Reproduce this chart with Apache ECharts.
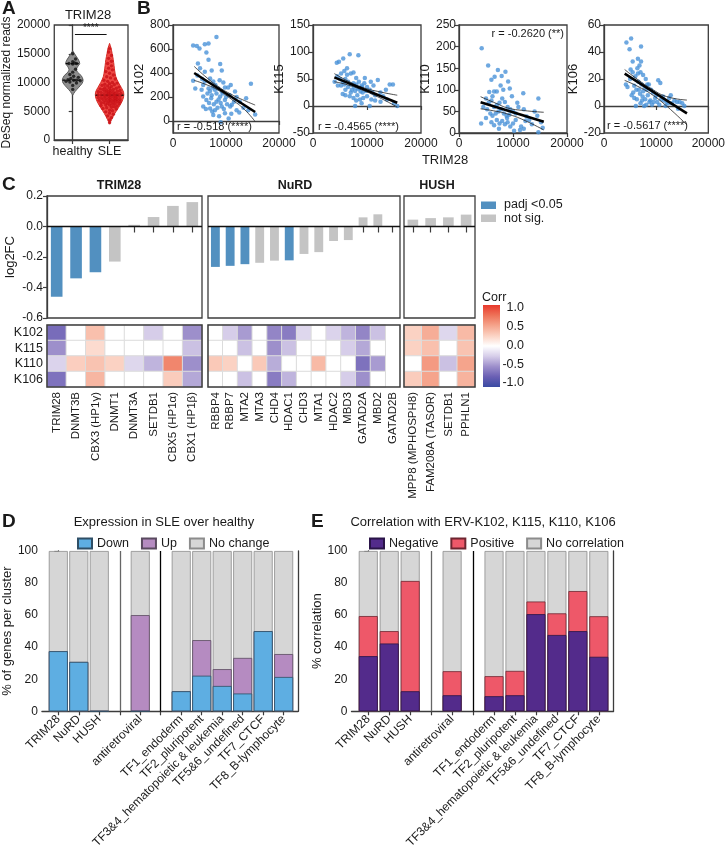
<!DOCTYPE html>
<html><head><meta charset="utf-8">
<script src="https://cdn.jsdelivr.net/npm/echarts@6/dist/echarts.min.js"></script>
<style>html,body{margin:0;padding:0;background:#fff}#c{width:728px;height:851px}</style>
</head><body><div id="c"></div>
<script>
// ================= DATA =================
// Panel A
const violinCategories = ['healthy', 'SLE'];
const healthyTRIM28 = [8800,9500,9900,10100,10200,10300,10400,10400,10500,10700,10900,11100,11400,11800,12300,13200,13300,13300,13400,13600,14100,15000];
const sleTRIM28 = [3000,3500,3900,4200,4500,4700,4900,5100,5200,5400,5500,5600,5700,5800,5900,6000,6100,6100,6200,6300,6300,6400,6500,6500,6600,6600,6700,6700,6800,6800,6900,6900,7000,7000,7000,7100,7100,7200,7200,7300,7300,7400,7400,7500,7500,7500,7600,7600,7700,7700,7800,7800,7900,7900,8000,8000,8000,8100,8100,8200,8200,8300,8300,8400,8400,8500,8500,8600,8600,8700,8800,8800,8900,9000,9000,9100,9200,9300,9400,9500,9600,9700,9800,9900,10000,10200,10400,10600,10800,11000,11300,11600,11900,12200,12500,12900,13300,13700,14200,14700,15300,15900];
// violin outline: [TRIM28 reads, half-width in category units]
const healthyProfile = [[7800,0],[8400,0.06],[9200,0.17],[9900,0.26],[10500,0.28],[11200,0.23],[11800,0.13],[12300,0.1],[12800,0.14],[13300,0.19],[13900,0.16],[14600,0.09],[15500,0]];
const sleProfile = [[2800,0],[3600,0.06],[4600,0.14],[5600,0.24],[6600,0.33],[7500,0.38],[8300,0.38],[9100,0.32],[10000,0.24],[11000,0.17],[12000,0.14],[13000,0.12],[14000,0.1],[15000,0.07],[16000,0.04],[16800,0]];
const healthyLines = [10400, 13300];
const sleLines = [7800];
const sigValue = 18400;
const sigText = '****';

// Panel B  [TRIM28, ERV reads]
const k102Points = [[3800,630],[4500,625],[5000,605],[6000,640],[6700,645],[8200,700],[6300,570],[6700,510],[8900,475],[4700,480],[3800,335],[4200,270],[5100,440],[6000,410],[7300,420],[9200,420],[7000,355],[7600,330],[5700,300],[5400,260],[6700,270],[7900,260],[8500,270],[9200,245],[9800,280],[10400,280],[5700,205],[7300,215],[8900,205],[10700,215],[11700,245],[6300,175],[8200,160],[9800,175],[5700,120],[7000,105],[7900,90],[9200,120],[11100,135],[12600,160],[13800,190],[14700,310],[15500,55],[14200,90],[7600,50],[9800,65],[12000,90],[6500,230],[7000,250],[7500,280],[8000,300],[8200,230],[8600,180],[9000,150],[9400,230],[10000,200],[10200,140],[10800,120],[7200,190],[6800,150],[7700,140],[8400,110],[9600,100],[11000,60],[10500,20],[9000,-10],[12500,70],[13300,110],[11500,160],[6000,330],[5500,350],[4600,380],[8800,340],[9500,320],[10900,300],[12000,200],[6200,100],[7400,80],[8700,40]];
const k102Fit = [[4000,400],[15500,75]];
const k102CIUp = [[4000,455],[6000,375],[8500,288],[11000,222],[13500,170],[15500,133]];
const k102CILow = [[4000,338],[6000,308],[8500,258],[11000,182],[13500,95],[15500,-5]];

const k115Points = [[4000,45],[4400,80],[4800,82],[5600,88],[6800,96],[8400,94],[5200,60],[5800,65],[6300,70],[7000,60],[7500,62],[8000,52],[4500,55],[5000,50],[5500,45],[6000,50],[6500,45],[7000,40],[7500,42],[8000,40],[8500,45],[9000,38],[9500,42],[10000,35],[5200,38],[6000,30],[6500,35],[7200,30],[7800,28],[8300,32],[8800,27],[9200,25],[9800,28],[10500,30],[11000,25],[11500,20],[12000,48],[12500,25],[13500,30],[14200,40],[14800,40],[13000,18],[6000,20],[6800,18],[7500,15],[8200,20],[8700,12],[9300,15],[10000,18],[10800,12],[11500,10],[12500,8],[13700,12],[15000,5],[15600,0],[7800,0],[10500,0],[9000,5],[5500,22],[4600,38],[7000,25],[8000,10],[6300,58],[9600,52],[10700,45],[7600,35],[8600,33],[9100,35],[11200,38],[5800,40]];
const k115Fit = [[3950,53],[15600,6]];
const k115CIUp = [[3950,60],[6500,46],[9000,35],[12000,27],[15600,20]];
const k115CILow = [[3950,45],[6500,39],[9000,30],[12000,17],[15600,-2]];

const k110Points = [[4200,196],[5400,156],[7200,146],[8600,142],[7900,132],[9100,119],[6000,123],[11900,92],[14700,80],[9400,103],[7000,96],[6500,96],[4100,22],[11300,7],[14700,2],[5000,80],[5500,70],[6000,75],[6500,60],[7000,65],[7500,70],[8000,80],[8500,72],[9000,60],[9500,55],[10000,50],[5200,55],[5800,45],[6200,40],[6800,45],[7300,50],[7800,55],[8300,45],[8800,40],[9300,42],[10500,45],[11000,60],[12000,55],[12500,38],[13000,30],[13500,20],[14500,40],[15200,25],[15500,12],[4500,60],[5000,35],[6000,25],[6500,18],[7000,30],[7500,22],[8000,28],[8500,20],[9000,25],[9500,15],[10000,22],[10500,30],[11500,15],[12000,10],[6200,85],[8200,100],[9800,85],[7700,110],[6600,130],[8900,35],[10800,70],[5600,95],[12300,28],[14000,50],[7400,10],[10200,5]];
const k110Fit = [[4000,71],[15700,26]];
const k110CIUp = [[4000,84],[7000,68],[9000,58],[12000,52],[15700,48]];
const k110CILow = [[4000,56],[7000,50],[9000,44],[12000,30],[15700,7]];

const k106Points = [[4300,47],[5200,50],[4900,42],[7100,44],[6500,35],[7100,33],[5500,33],[6800,30],[4200,16],[4500,14],[5000,20],[5500,25],[6000,22],[6500,24],[7000,25],[7500,23],[8000,20],[5800,15],[6200,12],[6600,18],[7200,16],[7800,14],[8200,12],[8600,16],[9000,12],[9400,10],[10000,8],[10400,19],[10800,17],[5300,8],[5800,6],[6300,5],[6900,9],[7400,7],[7900,5],[8400,8],[8900,4],[9500,3],[10200,3],[11000,5],[11500,4],[12000,3],[12500,6],[13000,2],[13500,4],[14000,3],[14500,3],[15000,2],[15400,0],[6100,0],[7000,2],[7700,0],[8100,1],[8700,3],[9200,1],[10600,1],[11800,0],[12300,2],[14200,-2],[5600,10],[6700,12],[7500,11],[9800,6],[11300,7],[12800,8],[6400,28],[8300,16],[5100,27],[7300,4]];
const k106Fit = [[3960,24],[15900,-5.4]];
const k106CIUp = [[3960,27],[6500,19.5],[9000,13],[12000,7],[15900,4.4]];
const k106CILow = [[3960,19],[6500,14.5],[9000,9],[12000,0],[15900,-14]];

const rTexts = ['r = -0.518 (****)', 'r = -0.4565 (****)', 'r = -0.2620 (**)', 'r = -0.5617 (****)'];

// Panel C
const ervRows = ['K102', 'K115', 'K110', 'K106'];
const trim28Genes = ['TRIM28','DNMT3B','CBX3 (HP1γ)','DNMT1','DNMT3A','SETDB1','CBX5 (HP1α)','CBX1 (HP1β)'];
const trim28LogFC = [-0.46,-0.34,-0.30,-0.23,0.011,0.062,0.135,0.16];
const trim28Padj = [1,1,1,0,0,0,0,0];
const trim28Corr = [
  [-0.68,0,0.35,0,0,-0.25,0,-0.5],
  [-0.5,0,0.2,0,0,0,0,-0.3],
  [-0.22,0.27,0.33,0.25,-0.2,-0.35,0.65,-0.5],
  [-0.65,0,0.4,0,0,0,0.28,-0.4]];
const nurdGenes = ['RBBP4','RBBP7','MTA2','MTA3','CHD4','HDAC1','CHD3','MTA1','HDAC2','MBD3','GATAD2A','MBD2','GATAD2B'];
const nurdLogFC = [-0.265,-0.258,-0.247,-0.238,-0.224,-0.222,-0.18,-0.168,-0.095,-0.089,0.06,0.08,null];
const nurdPadj = [1,1,1,0,0,1,0,0,0,0,0,0,0];
const nurdCorr = [
  [0,-0.25,-0.45,0,-0.55,-0.6,-0.2,0,-0.22,-0.35,-0.55,-0.3,null],
  [0,0,-0.3,0,-0.5,-0.3,0,0,0,-0.25,-0.4,0,null],
  [0.3,0.25,0,0.3,-0.38,0,0,0.38,0,0,-0.65,-0.45,null],
  [0,0,-0.3,0,-0.6,-0.35,0,0,0,-0.25,-0.5,0,null]];
const hushGenes = ['MPP8 (MPHOSPH8)','FAM208A (TASOR)','SETDB1','PPHLN1'];
const hushLogFC = [0.045,0.055,0.06,0.078];
const hushPadj = [0,0,0,0];
const hushCorr = [
  [0.25,0.45,-0.2,0.38],
  [0.25,0.35,0,0.33],
  [0,0.55,-0.3,0.5],
  [0.28,0.5,0,0.42]];
const corrTicks = ['1.0','0.5','0.0','-0.5','-1.0'];

// Panels D & E
const clusters = ['TRIM28','NuRD','HUSH','antiretroviral','TF1_endoderm','TF2_pluripotent','TF3&4_hematopoietic & leukemia','TF5&6_undefined','TF7_CTCF','TF8_B-lymphocyte'];
const dDown = [37.5,30.8,0,0,12.5,22.2,15.8,11.1,50,21.4];
const dUp = [0,0,0,60,0,22.2,10.5,22.2,0,14.3];
const dNoChange = [62.5,69.2,100,40,87.5,55.6,73.7,66.7,50,64.3];
const eNegative = [34.4,42.3,12.5,10,9.4,10,60.6,47.6,50,34];
const ePositive = [25,7.7,68.8,15,12.5,15.2,7.9,13.5,25,25.3];
const eNone = [40.6,50,18.7,75,78.1,74.8,31.5,38.9,25,40.7];

// ================= LAYOUT / STYLE =================
const F = '"Liberation Sans", Arial, Helvetica, sans-serif';
const TXT = '#1a1a1a';
const AX = '#3c3c3c';
const BLUE = '#5290c0', GREY = '#c4c4c4';
const corrColors = ['#3a4aa2','#6a5fb4','#9d8fcb','#d6cde9','#ffffff','#fbd2c3','#f5a48c','#ee7258','#e8392c'];
const plain = v => String(Math.round(v * 1000) / 1000);

const grids = [], xAxes = [], yAxes = [], series = [], graphics = [], heatIdx = [];
const axLine = {show:true, lineStyle:{color:AX, width:1.3}};
const axTick = {show:true, length:4, lineStyle:{color:AX, width:1.2}};
const axLab = {color:TXT, fontSize:12, fontFamily:F, formatter:plain};
const nameStyle = {color:TXT, fontSize:13, fontFamily:F};

function txt(x, y, text, opt) {
  opt = opt || {};
  graphics.push({type:'text', x:x, y:y, z:100, style:{text:text, fill:TXT,
    font:(opt.bold?'bold ':'') + (opt.size||12) + 'px ' + F,
    textAlign:opt.align||'left', textVerticalAlign:'middle'}});
}

// ---------- Panel A ----------
function interpW(prof, v) {
  for (let i = 0; i < prof.length - 1; i++) {
    const a = prof[i], b = prof[i+1];
    if (v >= a[0] && v <= b[0]) return a[1] + (b[1]-a[1])*(v-a[0])/(b[0]-a[0]);
  }
  return 0;
}
// deterministic dot placement inside the violin (max-min-distance on a 1px grid)
function spread(vals, center, prof, pxPerX, pxPerY) {
  const placed = [], out = [];
  vals.slice().sort((a,b)=>a-b).forEach(v => {
    const y = v * pxPerY;
    const W = Math.max(0, Math.floor(interpW(prof, v) * pxPerX * 0.85));
    let best = 0, bestD = -1;
    for (let k = 0; k <= 2*W; k++) {
      const off = (k % 2 ? 1 : -1) * Math.ceil(k/2);
      let d = 1e9;
      placed.forEach(p => { const dd = Math.hypot(p[0]-off, p[1]-y); if (dd < d) d = dd; });
      if (d > bestD + 0.5) { bestD = d; best = off; }
      if (d >= 4) break;
    }
    placed.push([best, y]); out.push([center + best/pxPerX, v]);
  });
  return out;
}
(function(){
  const g = grids.length;
  grids.push({left:50, top:25, width:78, height:115, show:true, borderColor:AX, borderWidth:1.3});
  xAxes.push({gridIndex:g, type:'value', min:-0.5, max:1.5, splitLine:{show:false}, axisLine:axLine,
    axisTick:Object.assign({}, axTick, {customValues:[0,1]}),
    axisLabel:Object.assign({}, axLab, {fontSize:12.5, margin:5, customValues:[0,1], formatter:v=>violinCategories[Math.round(v)]})});
  yAxes.push({gridIndex:g, type:'value', min:0, max:20000, interval:5000, splitLine:{show:false}, axisLine:axLine, axisTick:axTick,
    axisLabel:Object.assign({}, axLab, {margin:4}), name:'DeSeq normalized reads', nameLocation:'middle', nameGap:37, nameTextStyle:Object.assign({}, nameStyle, {fontSize:12})});
  const xi = xAxes.length-1, yi = yAxes.length-1;
  const profiles = [healthyProfile, sleProfile], lines = [healthyLines, sleLines];
  const fill = ['#8e8e8e','#ef4a45'], stroke = ['#5a5a5a','#d42a25'];
  series.push({type:'custom', xAxisIndex:xi, yAxisIndex:yi, data:[[0,0],[1,0]], encode:{x:0,y:1}, z:2,
    renderItem:function(params, api){
      const c = params.dataIndex, prof = profiles[c];
      const L = [], R = [];
      prof.forEach(p => { L.push(api.coord([c-p[1], p[0]])); R.push(api.coord([c+p[1], p[0]])); });
      const children = [{type:'polygon', shape:{points:L.concat(R.reverse()), smooth:0.3}, style:{fill:fill[c], stroke:stroke[c], lineWidth:1}}];
      lines[c].forEach(q => {
        const w = interpW(prof, q), a = api.coord([c-w, q]), b = api.coord([c+w, q]);
        children.push({type:'line', z2:10, shape:{x1:a[0],y1:a[1],x2:b[0],y2:b[1]}, style:{stroke:'#000', lineWidth:1.3, lineDash:[3,2]}});
      });
      return {type:'group', children:children};
    }});
  series.push({type:'scatter', xAxisIndex:xi, yAxisIndex:yi, z:3, symbolSize:3.4, itemStyle:{color:'#111'},
    data:spread(healthyTRIM28, 0, healthyProfile, 39, 115/20000)});
  series.push({type:'scatter', xAxisIndex:xi, yAxisIndex:yi, z:3, symbolSize:3.4, itemStyle:{color:'#c81016'},
    data:spread(sleTRIM28, 1, sleProfile, 39, 115/20000),
    markLine:{silent:true, symbol:'none', lineStyle:{color:'#111', width:1, type:'solid'},
      label:{show:true, position:'middle', formatter:sigText, fontSize:10, color:TXT, distance:1},
      data:[[{coord:[0.06, sigValue]}, {coord:[0.92, sigValue]}]]}});
  txt(88, 15, 'TRIM28', {size:13, align:'center'});
})();

// ---------- Panel B ----------
function scatterPanel(left, width, yMin, yMax, yInt, yLabels, yName, nameGap, pts, fit, ciU, ciL) {
  const g = grids.length;
  grids.push({left:left, top:25, width:width, height:108, show:true, borderColor:AX, borderWidth:1.3});
  xAxes.push({gridIndex:g, type:'value', min:0, max:20000, interval:10000, splitLine:{show:false}, axisLine:axLine, axisTick:axTick,
    axisLabel:Object.assign({}, axLab, {margin:5})});
  const ya = {gridIndex:g, type:'value', min:yMin, max:yMax, splitLine:{show:false}, axisLine:axLine,
    axisTick:Object.assign({}, axTick), axisLabel:Object.assign({}, axLab, {margin:3}),
    name:yName, nameLocation:'middle', nameGap:nameGap, nameTextStyle:nameStyle};
  if (yLabels) { ya.axisLabel.customValues = yLabels; ya.axisTick.customValues = yLabels; } else { ya.interval = yInt; }
  yAxes.push(ya);
  const xi = xAxes.length-1, yi = yAxes.length-1;
  series.push({type:'scatter', xAxisIndex:xi, yAxisIndex:yi, data:pts, symbolSize:4.5, itemStyle:{color:'#4a92d8'}, z:2});
  [ciU, ciL].forEach(c => series.push({type:'line', xAxisIndex:xi, yAxisIndex:yi, data:c, smooth:true, symbol:'none', lineStyle:{color:'#222', width:0.8}, z:3}));
  series.push({type:'line', xAxisIndex:xi, yAxisIndex:yi, data:fit, symbol:'none', lineStyle:{color:'#000', width:2.6}, z:4});
}
scatterPanel(173, 106, -100, 800, null, [0,200,400,600,800], 'K102', 24, k102Points, k102Fit, k102CIUp, k102CILow);
scatterPanel(313, 108, -50, 150, 50, null, 'K115', 16, k115Points, k115Fit, k115CIUp, k115CILow);
scatterPanel(459, 108, 0, 250, 50, null, 'K110', 17, k110Points, k110Fit, k110CIUp, k110CILow);
scatterPanel(604, 106, -20, 60, 20, null, 'K106', 17, k106Points, k106Fit, k106CIUp, k106CILow);
txt(177, 127, rTexts[0], {size:11});
txt(318, 127, rTexts[1], {size:11});
txt(564, 34, rTexts[2], {size:11, align:'right'});
txt(607, 126, rTexts[3], {size:11});
txt(445, 160, 'TRIM28', {size:13, align:'center'});

// ---------- Panel C ----------
function cGroup(left, width, genes, fc, padj, corr, first, title, titleX) {
  const g = grids.length;
  grids.push({left:left, top:196, width:width, height:122, show:true, borderColor:AX, borderWidth:1.3});
  xAxes.push({gridIndex:g, type:'category', data:genes, axisLine:{show:false}, splitLine:{show:false},
    axisTick:{show:true, alignWithLabel:true, interval:0, length:6, lineStyle:{color:AX, width:1.2}}, axisLabel:{show:false, interval:0}});
  yAxes.push({gridIndex:g, type:'value', min:-0.6, max:0.2, interval:0.2, splitLine:{show:false},
    axisLine:{show:first, lineStyle:{color:AX, width:1.3}}, axisTick:Object.assign({}, axTick, {show:first}),
    axisLabel:Object.assign({}, axLab, {show:first, margin:4, formatter:v=>(Math.abs(v)<1e-9?0:v).toFixed(1)}),
    name:first?'log2FC':'', nameLocation:'middle', nameGap:30, nameTextStyle:nameStyle});
  let xi = xAxes.length-1, yi = yAxes.length-1;
  series.push({type:'bar', xAxisIndex:xi, yAxisIndex:yi, barWidth:'60%',
    data:fc.map((v,i)=>(v==null?'-':{value:v, itemStyle:{color:padj[i]?BLUE:GREY}})),
    markLine:{silent:true, symbol:'none', label:{show:false}, lineStyle:{color:'#111', width:1.3, type:'solid'}, data:[{yAxis:0}]}});
  const h = grids.length;
  grids.push({left:left, top:325, width:width, height:62});
  xAxes.push({gridIndex:h, type:'category', data:genes, axisLine:{show:false}, axisTick:{show:false}, splitLine:{show:false},
    axisLabel:{interval:0, rotate:90, fontSize:11.5, color:TXT, fontFamily:F, margin:5}});
  yAxes.push({gridIndex:h, type:'category', data:ervRows, inverse:true, axisLine:{show:false}, axisTick:{show:false},
    axisLabel:{show:first, interval:0, fontSize:12.5, color:TXT, fontFamily:F, margin:4}});
  xi = xAxes.length-1; yi = yAxes.length-1;
  const hd = [];
  corr.forEach((row,r)=>row.forEach((v,c)=>hd.push([c, r, v==null?'-':v])));
  series.push({type:'heatmap', xAxisIndex:xi, yAxisIndex:yi, data:hd, itemStyle:{borderColor:'#dcdcdc', borderWidth:1}});
  heatIdx.push(series.length-1);
  graphics.push({type:'rect', z:100, shape:{x:left, y:325, width:width, height:62}, style:{fill:null, stroke:AX, lineWidth:1.5}});
  txt(titleX, 186, title, {bold:true, size:12.5, align:'center'});
}
cGroup(47, 155, trim28Genes, trim28LogFC, trim28Padj, trim28Corr, true, 'TRIM28', 119);
cGroup(208, 192, nurdGenes, nurdLogFC, nurdPadj, nurdCorr, false, 'NuRD', 295);
cGroup(404, 71, hushGenes, hushLogFC, hushPadj, hushCorr, false, 'HUSH', 437);
// legend for significance
graphics.push({type:'rect', shape:{x:481, y:201.5, width:15, height:7.5}, style:{fill:BLUE}});
graphics.push({type:'rect', shape:{x:481, y:214.5, width:15, height:7.5}, style:{fill:GREY}});
txt(504, 205, 'padj <0.05', {size:12.5});
txt(504, 219, 'not sig.', {size:12.5});
// colour bar
txt(482, 298, 'Corr', {size:12.5});
graphics.push({type:'rect', shape:{x:483, y:305, width:17, height:82},
  style:{fill:new echarts.graphic.LinearGradient(0,0,0,1, corrColors.slice().reverse().map((c,i)=>({offset:i/(corrColors.length-1), color:c})))}});
corrTicks.forEach((t,i)=>txt(524, 308 + i*18.75, t, {size:12.5, align:'right'}));

// ---------- Panels D & E ----------
const slotPos = [0,1,2,4,6,7,8,9,10,11];
function stackPanel(left, yName, nameGap, vals, names, colors, borders) {
  const g = grids.length;
  grids.push({left:left, top:551, width:262, height:162});
  xAxes.push({gridIndex:g, type:'value', min:-0.8, max:11.7, splitLine:{show:false}, axisLine:axLine,
    axisTick:Object.assign({}, axTick, {customValues:[0,1,2,3,4,5,6,7,8,9,10,11]}),
    axisLabel:Object.assign({}, axLab, {customValues:slotPos, rotate:45, margin:6, fontSize:12,
      formatter:v=>clusters[slotPos.indexOf(Math.round(v))]})});
  yAxes.push({gridIndex:g, type:'value', min:0, max:100, interval:20, splitLine:{show:false}, axisLine:axLine, axisTick:axTick,
    axisLabel:Object.assign({}, axLab, {margin:4}), name:yName, nameLocation:'middle', nameGap:nameGap, nameTextStyle:nameStyle});
  const xi = xAxes.length-1, yi = yAxes.length-1;
  yAxes.push({gridIndex:g, type:'value', position:'right', min:0, max:100, axisLine:axLine, axisTick:{show:false}, axisLabel:{show:false}, splitLine:{show:false}});
  // cumulative tops; drawn from the top segment down so each lower segment covers the one above
  const cum = vals.map((arr,k)=>arr.map((v,i)=>vals.slice(0,k+1).reduce((s,a)=>s+a[i],0)));
  for (let k = vals.length-1; k >= 0; k--) {
    const s = {type:'bar', name:names[k], xAxisIndex:xi, yAxisIndex:yi, barWidth:19, barGap:'-100%',
      z:2 + (vals.length-1-k) * 0.01,
      data:cum[k].map((v,i)=>[slotPos[i], v]), itemStyle:{color:colors[k], borderColor:borders[k], borderWidth:0.8}};
    if (k === 0) s.markLine = {silent:true, symbol:'none', label:{show:false}, lineStyle:{type:'solid', width:1.3},
      data:[{xAxis:3, lineStyle:{color:'#666', type:'solid', width:1.3}}, {xAxis:5, lineStyle:{color:'#000', type:'solid', width:1.3}}]};
    series.push(s);
  }
}
stackPanel(36, '% of genes per cluster', 19, [dDown, dUp, dNoChange], ['Down','Up','No change'],
  ['#5eaee2','#b58bc1','#d6d6d6'], ['#2f4f66','#5a4a60','#8c8c8c']);
stackPanel(351.5, '% correlation', 26, [eNegative, ePositive, eNone], ['Negative','Positive','No correlation'],
  ['#532b8b','#ee5869','#d6d6d6'], ['#2a1448','#6e2530','#8c8c8c']);
txt(164, 522, 'Expression in SLE over healthy', {size:13, align:'center'});
txt(483, 522, 'Correlation with ERV-K102, K115, K110, K106', {size:13, align:'center'});

// panel letters
txt(2, 9, 'A', {bold:true, size:19});
txt(137, 9, 'B', {bold:true, size:19});
txt(2, 185, 'C', {bold:true, size:19});
txt(2, 522, 'D', {bold:true, size:19});
txt(311, 522, 'E', {bold:true, size:19});

const legendBase = {top:537, itemWidth:14, itemHeight:10, itemGap:12, icon:'rect', selectedMode:false, padding:0,
  textStyle:{fontSize:12.5, color:TXT, fontFamily:F}};
const option = {
  animation:false,
  textStyle:{fontFamily:F, color:TXT},
  grid:grids, xAxis:xAxes, yAxis:yAxes, series:series, graphic:graphics,
  visualMap:[{type:'continuous', show:false, min:-1, max:1, seriesIndex:heatIdx, inRange:{color:corrColors}}],
  legend:[
    Object.assign({}, legendBase, {left:77, data:['Down','Up','No change']}),
    Object.assign({}, legendBase, {left:369, data:['Negative','Positive','No correlation']})
  ]
};
const chart = echarts.init(document.getElementById('c'));
chart.setOption(option);
</script>
</body></html>
